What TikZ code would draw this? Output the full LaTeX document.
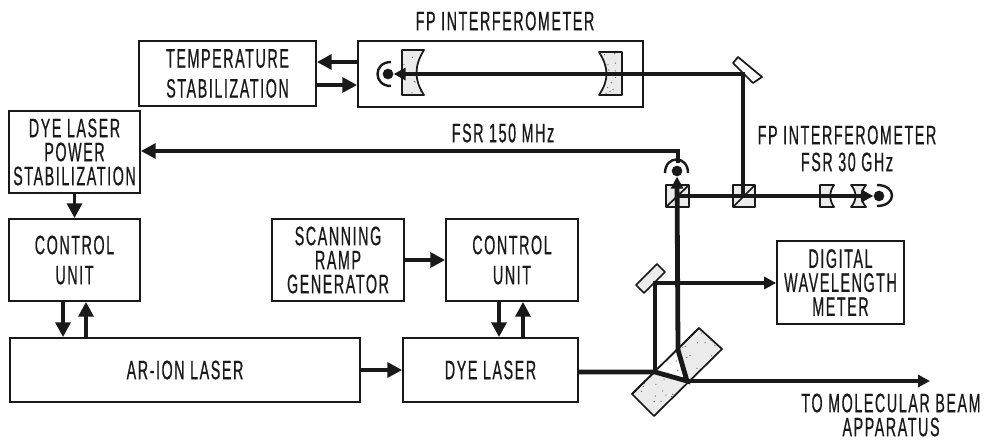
\documentclass[tikz,border=0pt]{standalone}
\usepackage{fontspec}
\setmainfont[FakeStretch=0.535,LetterSpace=6,FakeBold=0.6]{Liberation Sans}
\usetikzlibrary{arrows.meta,calc}
\tikzset{
  x=0.75pt,y=-0.75pt,
  every node/.style={text=black!90},
  lbl/.style={font=\fontsize{20}{18}\selectfont,inner sep=0pt,align=center},
  box/.style={draw=black!90,line width=1.3pt,rectangle,inner sep=0pt,align=center,font=\fontsize{20}{18}\selectfont,minimum width=#1},
  boxh/.style={minimum height=#1},
  wide/.style={font=\fontsize{20}{22.5}\selectfont},
  sig/.style={line width=2.8pt,draw=black!90,-{Triangle[length=11pt,width=11pt]}},
  beam/.style={line width=3.6pt,draw=black!90,line cap=butt,line join=miter},
  beamarr/.style={line width=3.6pt,draw=black!90,-{Triangle[length=9pt,width=9pt]}},
  optic/.style={draw=black!90,line width=1.3pt,fill=black!8,line join=round},
  optic2/.style={draw=black!90,line width=1.3pt,fill=white,line join=round},
  detarc/.style={draw=black!90,line width=1.8pt},
  detdot/.style={circle,fill=black!90,inner sep=0pt,minimum size=8pt},
}
\newcommand{\stip}[3]{%
  \begin{scope}\clip #1;
  \pgfmathsetseed{#3}
  \foreach \k in {1,...,#2}{\pgfmathsetmacro{\ax}{rnd}\pgfmathsetmacro{\ay}{rnd}
    \fill[black!60] ($(\bbx,\bby)+(\ax*\bbw,\ay*\bbh)$) circle (0.5pt);}
  \end{scope}}
\newcommand{\setbb}[4]{\def\bbx{#1}\def\bby{#2}\def\bbw{#3}\def\bbh{#4}}
\begin{document}
\begin{tikzpicture}
\useasboundingbox (0,0) rectangle (987,440);
% boxes
\node[box=132.75pt,boxh=48.75pt,wide] (temp) at (227.5,73.5) {TEMPERATURE\\STABILIZATION};
\node[box=213.75pt,boxh=49.5pt] (fp) at (500.5,74) {};
\node[box=98.25pt,boxh=61.5pt] (power) at (74.5,152) {DYE LASER\\POWER\\STABILIZATION};
\node[box=98.25pt,boxh=61.5pt,wide] (ctlA) at (74.5,260) {CONTROL\\UNIT};
\node[box=262.5pt,boxh=48pt] (ar) at (185,370) {AR-ION LASER};
\node[box=99pt,boxh=61.5pt] (ramp) at (338,260) {SCANNING\\RAMP\\GENERATOR};
\node[box=99pt,boxh=61.5pt,wide] (ctlB) at (512,260) {CONTROL\\UNIT};
\node[box=131.25pt,boxh=48pt] (dye) at (490.5,370) {DYE LASER};
\node[box=95.25pt,boxh=62.25pt] (meter) at (840.5,282.5) {DIGITAL\\WAVELENGTH\\METER};
% labels
\node[lbl] (t1) at (505,21) {FP INTERFEROMETER};
\node[lbl] (t2) at (503,133) {FSR 150 MHz};
\node[lbl] (t3) at (847,135) {FP INTERFEROMETER};
\node[lbl] (t4) at (847,162) {FSR 30 GHz};
\node[lbl] (t5) at (891,415) {TO MOLECULAR BEAM\\APPARATUS};
% signal arrows
\draw[sig] (fp.west |- 0,62) -- (temp.east |- 0,62);
\draw[sig] (temp.east |- 0,85) -- (fp.west |- 0,85);
\draw[sig] (power.south) -- (ctlA.north);
\draw[sig] (ctlA.south -| 63,0) -- (ar.north -| 63,0);
\draw[sig] (ar.north -| 86,0) -- (ctlA.south -| 86,0);
\draw[sig] (ar.east) -- (dye.west);
\draw[sig] (ramp.east) -- (ctlB.west);
\draw[sig] (ctlB.south -| 499,0) -- (dye.north -| 499,0);
\draw[sig] (dye.north -| 523,0) -- (ctlB.south -| 523,0);
% FP mirrors
\draw[optic] (402,50) -- (424,50) .. controls (414,66) and (414,80) .. (424,95) -- (402,95) -- cycle;
\draw[optic] (622,52) -- (599,52) .. controls (609,68) and (609,80) .. (599,95) -- (622,95) -- cycle;
\setbb{402}{50}{22}{45}\stip{(402,50) -- (424,50) .. controls (414,66) and (414,80) .. (424,95) -- (402,95) -- cycle}{14}{3}
\setbb{599}{52}{23}{43}\stip{(622,52) -- (599,52) .. controls (609,68) and (609,80) .. (599,95) -- (622,95) -- cycle}{14}{5}
% folding mirrors
\draw[optic2] (738,57) -- (762,77) -- (753,83) -- (733,63) -- cycle;
\draw[optic] (657,264) -- (665,272) -- (644,293) -- (636,285) -- cycle;
% main plate
\draw[optic] (699,328) -- (722,349) -- (654,416) -- (632,394) -- cycle;
\fill[white] (655,372) -- (678,350) -- (687,383) -- cycle;
\draw[draw=black!90,line width=1.3pt] (632,394) -- (699,328);
\setbb{632}{328}{90}{88}
\stip{(699,328) -- (722,349) -- (654,416) -- (632,394) -- cycle}{80}{7}
% cubes
\foreach \n/\xa/\xb in {cubeA/666/689,cubeB/733/755}{
  \draw[optic] (\xa,185) rectangle (\xb,207);
  \draw[draw=black!90,line width=1.3pt] (\xa,207) -- (\xb,185);
}
% small etalons
\draw[optic] (820,185) -- (834,185) .. controls (829,192) and (829,200) .. (834,207) -- (820,207) -- cycle;
\draw[optic] (851,185) -- (866,185) .. controls (860,192) and (860,200) .. (866,207) -- (851,207) .. controls (857,200) and (857,192) .. (851,185) -- cycle;
% detectors
\node[detdot] (detA) at (388,74) {};
\node[detdot] (detB) at (677,171) {};
\node[detdot] (detC) at (879,196) {};
\draw[detarc] (391,62) .. controls (373,62) and (373,86) .. (391,86);
\draw[detarc] (665,173) .. controls (665,155) and (688,155) .. (688,173);
\draw[detarc] (877,185) .. controls (897,185) and (897,206) .. (877,206);
% beams
\coordinate (m1) at (743,74);
\coordinate (b1) at (743,196);
\coordinate (b0) at (678,196);
\coordinate (p1) at (655,372);
\coordinate (p2) at (687,381);
\coordinate (p3) at (678,350);
\coordinate (m2) at (655,283);
\draw[beamarr] ($(m1)+(2,0)$) -- (detA.east);
\draw[beam] (b1) -- (m1);
\draw[beamarr] (b0) -- (detC.west);
\draw[beamarr] (p3) -- (detB.south);
\draw[beam] (dye.east |- p1) -- (p1) -- (p2) -- (p3);
\draw[beam] (p1) -- (m2);
\draw[beamarr] ($(m2)+(-2,0)$) -- (meter.west |- m2);
\draw[beamarr] (p2) -- (930,381);
\draw[sig] (678,163) -- (678,151) -- (power.east |- 0,151);
\end{tikzpicture}
\end{document}
